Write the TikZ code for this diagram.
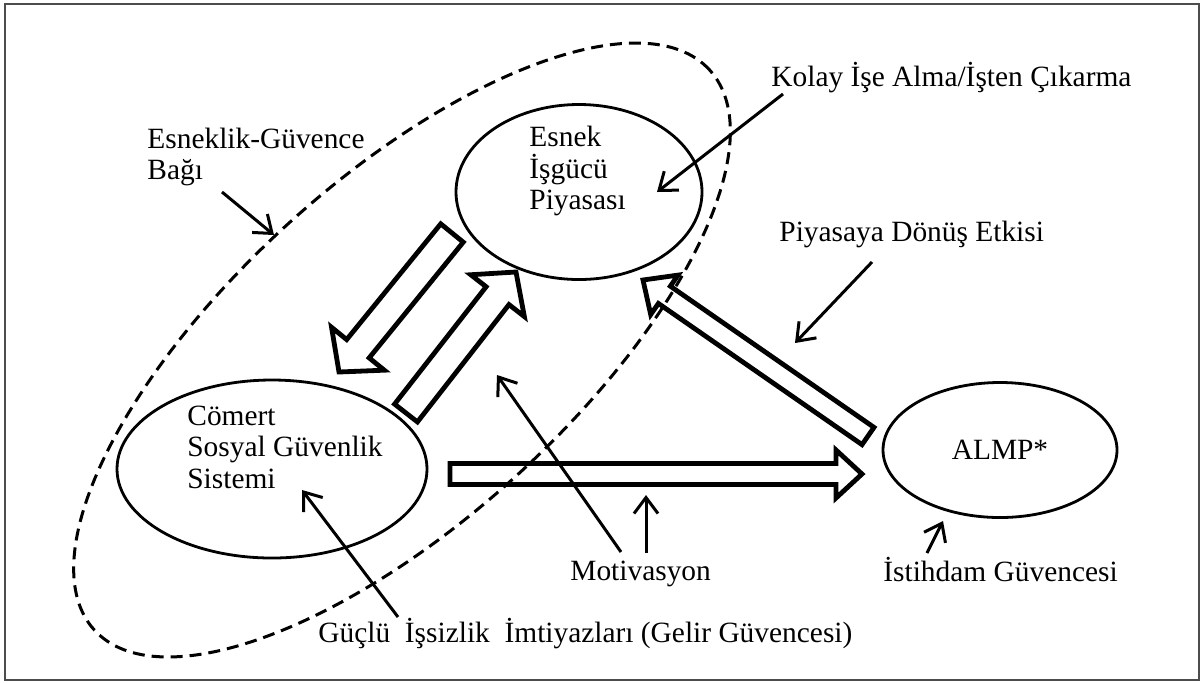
\documentclass[tikz,border=0pt]{standalone}
\usepackage{fontspec}
\setmainfont{Liberation Serif}
\usepackage{tikz}
\usetikzlibrary{positioning, calc, shapes.geometric, arrows.meta}

% hollow block arrow: tail, tip, half shaft, half head, head length
\newcommand{\fatarrow}[5]{%
  \coordinate (fa-base) at ($(#2)!#5!(#1)$);
  \draw[hollow] ($(#1)!#3!90:(#2)$) -- ($(fa-base)!#3!90:(#2)$)
    -- ($(fa-base)!#4!90:(#2)$) -- (#2) -- ($(fa-base)!#4!-90:(#2)$)
    -- ($(fa-base)!#3!-90:(#2)$) -- ($(#1)!#3!-90:(#2)$) -- cycle;}

\begin{document}
\begin{tikzpicture}[
    x=0.5pt, y=-0.5pt,
    txt/.style={font=\fontsize{14.7}{15.75}\selectfont, inner sep=0pt},
    oval/.style={draw, ellipse, line width=1.4pt, inner sep=0pt},
    bondline/.style={draw, ellipse, line width=1.5pt, dash pattern=on 6pt off 3.5pt, inner sep=0pt, outer sep=0pt},
    hollow/.style={draw, line width=2.4pt, line join=miter},
    pointer/.style={line width=1.5pt, -{Straight Barb[length=8pt, width=12pt]}},
  ]
    \useasboundingbox (0,0) rectangle (1203,682);
    \draw[gray!60!black, line width=1pt] (5,4) rectangle (1199,680);

    % flexicurity bond
    \node[bondline, rotate=42.3, minimum width=416pt, minimum height=170pt] (bond) at (402,350) {};

    % the three corners
    \node[oval, minimum width=123pt, minimum height=87.5pt] (esnek) at (579,192) {};
    \node[oval, minimum width=155pt, minimum height=89pt] (comert) at (272,469) {};
    \node[oval, txt, minimum width=117pt, minimum height=67.5pt] (almp) at (1000,450) {ALMP*};

    \node[txt, align=left, anchor=west] (esnekText) at (529,171) {Esnek\\İşgücü\\Piyasası};
    \node[txt, align=left, anchor=west] (comertText) at (187,447) {Cömert\\Sosyal Güvenlik\\Sistemi};

    % labels
    \node[txt, align=left, anchor=west] (bagText) at (147,157) {Esneklik-Güvence\\Bağı};
    \node[txt, anchor=base west] (kolayText) at (771,86) {Kolay İşe Alma/İşten Çıkarma};
    \node[txt, anchor=base west] (donusText) at (779,241) {Piyasaya Dönüş Etkisi};
    \node[txt, anchor=base west] (motivText) at (570,580) {Motivasyon};
    \node[txt, anchor=base west] (istihdamText) at (883,581) {İstihdam Güvencesi};
    \node[txt, anchor=base west] (gucluText) at (318,642) {Güçlü\ \ İşsizlik\ \ İmtiyazları (Gelir Güvencesi)};

    % block arrows
    \coordinate (downTail) at (452,233);
    \coordinate (downTip) at (339,372);
    \coordinate (upTail) at (406,413);
    \coordinate (upTip) at (516,272);
    \coordinate (rightTail) at (450,474);
    \coordinate (rightTip) at (862,474);
    \coordinate (backTail) at (868,436);
    \coordinate (backTip) at (643,280);
    \fatarrow{downTail}{downTip}{7.25pt}{17pt}{15pt}
    \fatarrow{upTail}{upTip}{7.25pt}{17pt}{15pt}
    \fatarrow{rightTail}{rightTip}{5.25pt}{12pt}{13pt}
    \fatarrow{backTail}{backTip}{5.25pt}{12pt}{13pt}

    % pointers
    \coordinate (bagFrom) at (222,192);
    \coordinate (bagTo) at (274,235);
    \coordinate (kolayFrom) at (783,94);
    \coordinate (kolayTo) at (657,192);
    \coordinate (donusFrom) at (872,262);
    \coordinate (donusTo) at (795,343);
    \coordinate (motivFrom) at (621,552);
    \coordinate (motivTo) at (497,375);
    \coordinate (motivFrom2) at (646,553);
    \coordinate (motivTo2) at (646,495);
    \coordinate (gucluFrom) at (398,617);
    \coordinate (gucluTo) at (302,490);
    \coordinate (istihdamFrom) at (927,553);
    \coordinate (istihdamTo) at (943,521);
    \draw[pointer] (bagFrom) -- (bagTo);
    \draw[pointer] (kolayFrom) -- (kolayTo);
    \draw[pointer] (donusFrom) -- (donusTo);
    \draw[pointer] (motivFrom) -- (motivTo);
    \draw[pointer] (motivFrom2) -- (motivTo2);
    \draw[pointer] (gucluFrom) -- (gucluTo);
    \draw[pointer] (istihdamFrom) -- (istihdamTo);
\end{tikzpicture}
\end{document}
